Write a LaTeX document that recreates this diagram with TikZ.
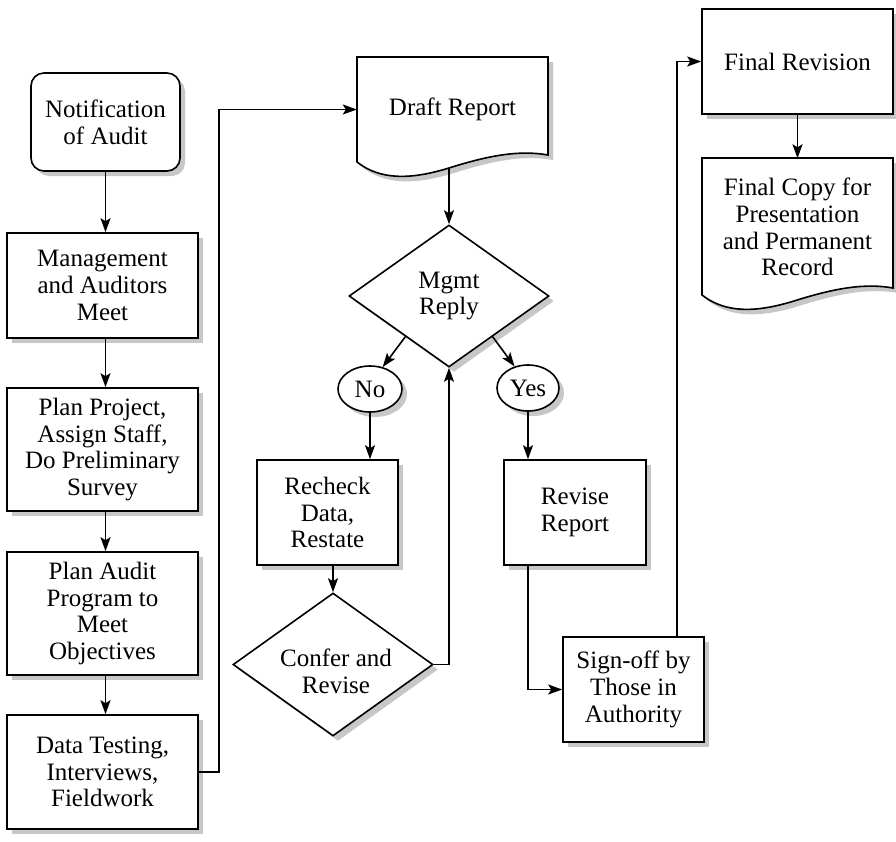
\documentclass[tikz,border=0pt]{standalone}
\usepackage{fontspec}
\setmainfont{Liberation Serif}
\usetikzlibrary{shapes.geometric,shadows,arrows.meta,calc}
\tikzset{
  shad/.style={drop shadow={shadow xshift=5pt,shadow yshift=-5pt,fill=black!22,opacity=1}},
  base/.style={draw=black,line width=1.6pt,fill=white,align=center,inner sep=0pt,shad},
  procbox/.style={base,rectangle,minimum width=191pt,minimum height=105pt},
  smallbox/.style={base,rectangle,minimum width=141pt,minimum height=105pt},
  startbox/.style={base,rectangle,rounded corners=13pt,minimum width=149pt,minimum height=98pt},
  decide/.style={base,diamond,minimum width=200pt,minimum height=142pt},
  oval/.style={base,ellipse,minimum width=64pt,minimum height=46pt},
  txt/.style={align=center,inner sep=0pt},
  conn/.style={line width=1.6pt,-{Stealth[length=14pt,width=10pt,inset=3pt]}},
  docshape/.style={draw=black,line width=1.6pt,fill=white},
  docshadow/.style={fill=black!22},
}
\begin{document}
\begin{tikzpicture}[x=1pt,y=-1pt,font=\fontsize{25}{26.7}\selectfont]
\useasboundingbox (0,0) rectangle (896,841);

% left column
\node[startbox] (notif) at (105.5,122) {Notification\\of Audit};
\node[procbox] (mgmt) at (102.5,285.5) {Management\\and Auditors\\Meet};
\node[procbox,minimum height=123pt] (plan) at (102.5,449.5) {Plan Project,\\Assign Staff,\\Do Preliminary\\Survey};
\node[procbox,minimum height=123pt] (paudit) at (102.5,613.5) {Plan Audit\\Program to\\Meet\\Objectives};
\node[procbox,minimum height=114pt] (data) at (102.5,772) {Data Testing,\\Interviews,\\Fieldwork};

% draft report document
\fill[docshadow,shift={(362,62)}] (0,0) -- (191,0) -- (191,98) .. controls (163,93) and (133,98) .. (92,111) .. controls (53,123) and (23,123) .. (0,105) -- cycle;
\draw[docshape,shift={(357,57)}] (0,0) -- (191,0) -- (191,98) .. controls (163,93) and (133,98) .. (92,111) .. controls (53,123) and (23,123) .. (0,105) -- cycle;
\node[txt,minimum width=191pt,minimum height=105pt] (draft) at (452.5,109.5) {Draft Report};
\coordinate (draftout) at (449,168);

% middle
\node[decide] (mgmtreply) at (449,296) {Mgmt\\Reply};
\node[oval] (no) at (370,389) {No};
\node[oval,minimum width=62pt] (yes) at (528,388) {Yes};
\node[smallbox] (recheck) at (327.5,512.5) {Recheck\\Data,\\Restate};
\node[decide,minimum height=143pt] (confer) at (333,664.5) {};
\node[txt] (confertext) at (336,671) {Confer and\\Revise};
\node[smallbox,minimum width=142pt] (revise) at (575,512.5) {Revise\\Report};
\node[smallbox] (signoff) at (633.5,689.5) {Sign-off by\\Those in\\Authority};

% right column
\node[procbox] (finalrev) at (797.5,61.5) {Final Revision};
\fill[docshadow,shift={(707,163)}] (0,0) -- (191,0) -- (191,130) .. controls (163,125) and (133,130) .. (92,143) .. controls (53,155) and (23,155) .. (0,137) -- cycle;
\draw[docshape,shift={(702,158)}] (0,0) -- (191,0) -- (191,130) .. controls (163,125) and (133,130) .. (92,143) .. controls (53,155) and (23,155) .. (0,137) -- cycle;
\node[txt,minimum width=191pt,minimum height=137pt] (finalcopy) at (797.5,227) {Final Copy for\\Presentation\\and Permanent\\Record};

% connectors
\draw[conn] (notif.south) -- (notif.south |- mgmt.north);
\draw[conn] (mgmt.south -| notif.south) -- (plan.north -| notif.south);
\draw[conn] (plan.south -| notif.south) -- (paudit.north -| notif.south);
\draw[conn] (paudit.south -| notif.south) -- (data.north -| notif.south);
\draw[conn] (data.east) -- ++(20,0) |- (draft.west);
\draw[conn] (draftout) -- (mgmtreply.north);
\draw[conn] (mgmtreply.223) -- (no.60);
\draw[conn] (mgmtreply.317) -- (yes.122);
\draw[conn] (no.south) -- (no.south |- recheck.north);
\draw[conn] (yes.south) -- (yes.south |- revise.north);
\draw[conn] (recheck.south -| confer.north) -- (confer.north);
\draw[conn] (confer.east) -| (mgmtreply.south);
\draw[conn] (revise.south -| yes.south) |- (signoff.west);
\draw[conn] ([xshift=43.5pt]signoff.north) |- (finalrev.west);
\draw[conn] (finalrev.south) -- (finalcopy.north);
\end{tikzpicture}
\end{document}
